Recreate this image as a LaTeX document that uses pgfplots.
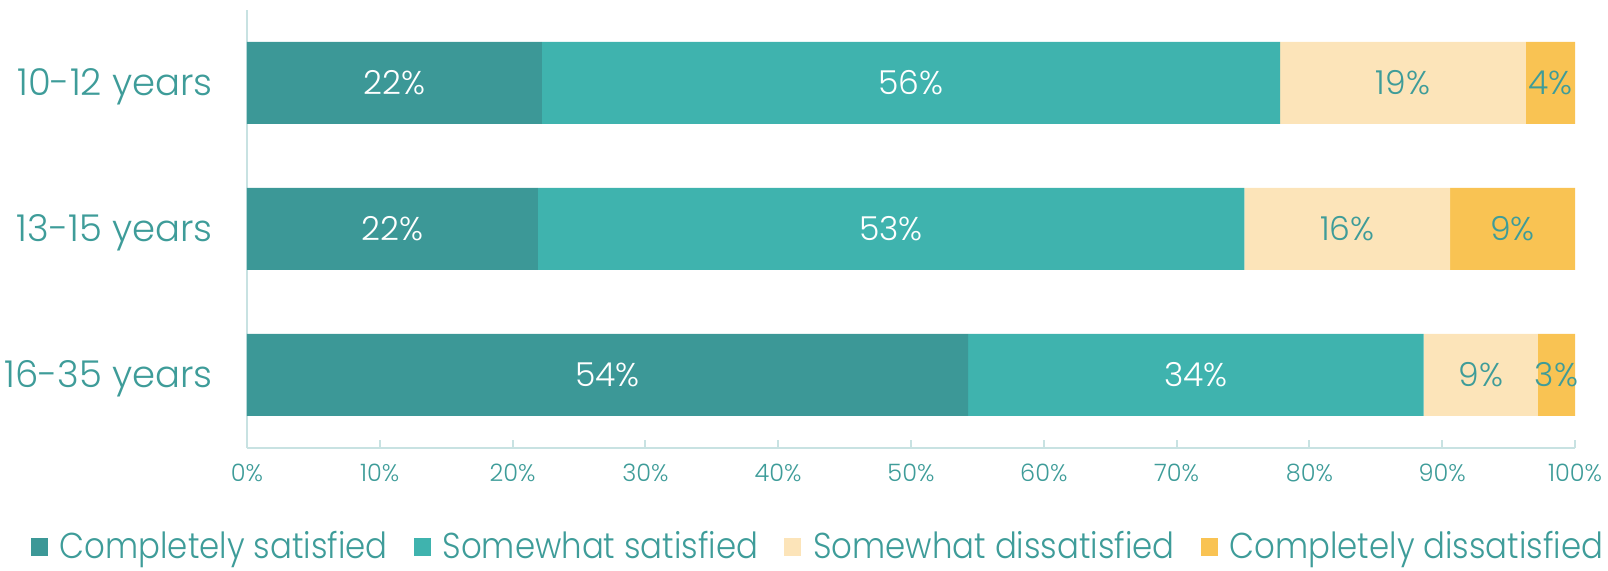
\documentclass[border=0pt]{standalone}
\usepackage{pgfplots}
\pgfplotsset{compat=1.18}
\usepackage{fontspec}
\setmainfont{Poppins Light}
\newfontfamily\legfont{Poppins Light}[FakeStretch=0.9]
\definecolor{c1}{HTML}{3C9897}
\definecolor{c2}{HTML}{3FB3AE}
\definecolor{c3}{HTML}{FCE4B9}
\definecolor{c4}{HTML}{F9C353}
\definecolor{txt}{HTML}{3E9C99}
\definecolor{axc}{HTML}{C8E2E2}

\pgfplotsset{
  base/.style={
    at={(123.5pt,61.5pt)}, anchor=south west,
    scale only axis, width=664pt, height=219pt,
    xmin=0, xmax=100, ymin=-0.5, ymax=2.5,
  },
}

\begin{document}
\begin{tikzpicture}
\path[use as bounding box] (0,0) rectangle (804pt,285.5pt);
\begin{axis}[
  base,
  xbar stacked, bar width=41pt,
  axis x line*=bottom, axis y line*=left,
  axis line style={axc, line width=1pt, -},
  xtick={0,10,...,100},
  xticklabel={\pgfmathprintnumber{\tick}\%},
  xticklabel style={font=\fontsize{12}{12}\selectfont, text=txt, inner sep=0pt, yshift=-8pt},
  ytick={0,1,2},
  yticklabels={16-35 years,13-15 years,10-12 years},
  yticklabel style={font=\fontsize{18.5}{18.5}\selectfont, text=txt, inner sep=0pt, xshift=-17pt, yshift=-2pt},
  tick align=inside, major tick length=4pt,
  x tick style={axc, line width=1pt},
  y tick style={draw=none},
  /pgf/number format/assume math mode=true,
  legend columns=4,
  legend style={at={(0.43,-0.225)}, anchor=center, draw=none, fill=none,
    font=\legfont\fontsize{18}{18}\selectfont, text=txt, inner sep=0pt,
    nodes={inner sep=1pt},
    /tikz/every odd column/.append style={column sep=5pt},
    /tikz/every even column/.append style={column sep=12pt}},
  legend image code/.code={\fill[#1] (0pt,-4.5pt) rectangle (8.5pt,4.5pt);},
]
\addplot[fill=c1, draw=none] coordinates {(22.2,2) (21.9,1) (54.3,0)};
\addplot[fill=c2, draw=none] coordinates {(55.6,2) (53.2,1) (34.3,0)};
\addplot[fill=c3, draw=none] coordinates {(18.5,2) (15.5,1) (8.6,0)};
\addplot[fill=c4, draw=none] coordinates {(3.7,2) (9.4,1) (2.8,0)};
\legend{Completely satisfied, Somewhat satisfied, Somewhat dissatisfied, Completely dissatisfied}
\end{axis}
\begin{axis}[base, hide axis]
\addplot[draw=none, mark=none, nodes near coords, point meta=explicit symbolic,
  nodes near coords align=center,
  every node near coord/.append style={text=white, font=\fontsize{16.5}{16.5}\selectfont}]
  coordinates {(11.1,2)[22\%] (50.0,2)[56\%] (10.95,1)[22\%] (48.5,1)[53\%] (27.15,0)[54\%] (71.45,0)[34\%]};
\addplot[draw=none, mark=none, nodes near coords, point meta=explicit symbolic,
  nodes near coords align=center,
  every node near coord/.append style={text=txt, font=\fontsize{16.5}{16.5}\selectfont}]
  coordinates {(87.05,2)[19\%] (98.15,2)[4\%] (82.85,1)[16\%] (95.3,1)[9\%] (92.9,0)[9\%] (98.6,0)[3\%]};
\end{axis}
\end{tikzpicture}
\end{document}
